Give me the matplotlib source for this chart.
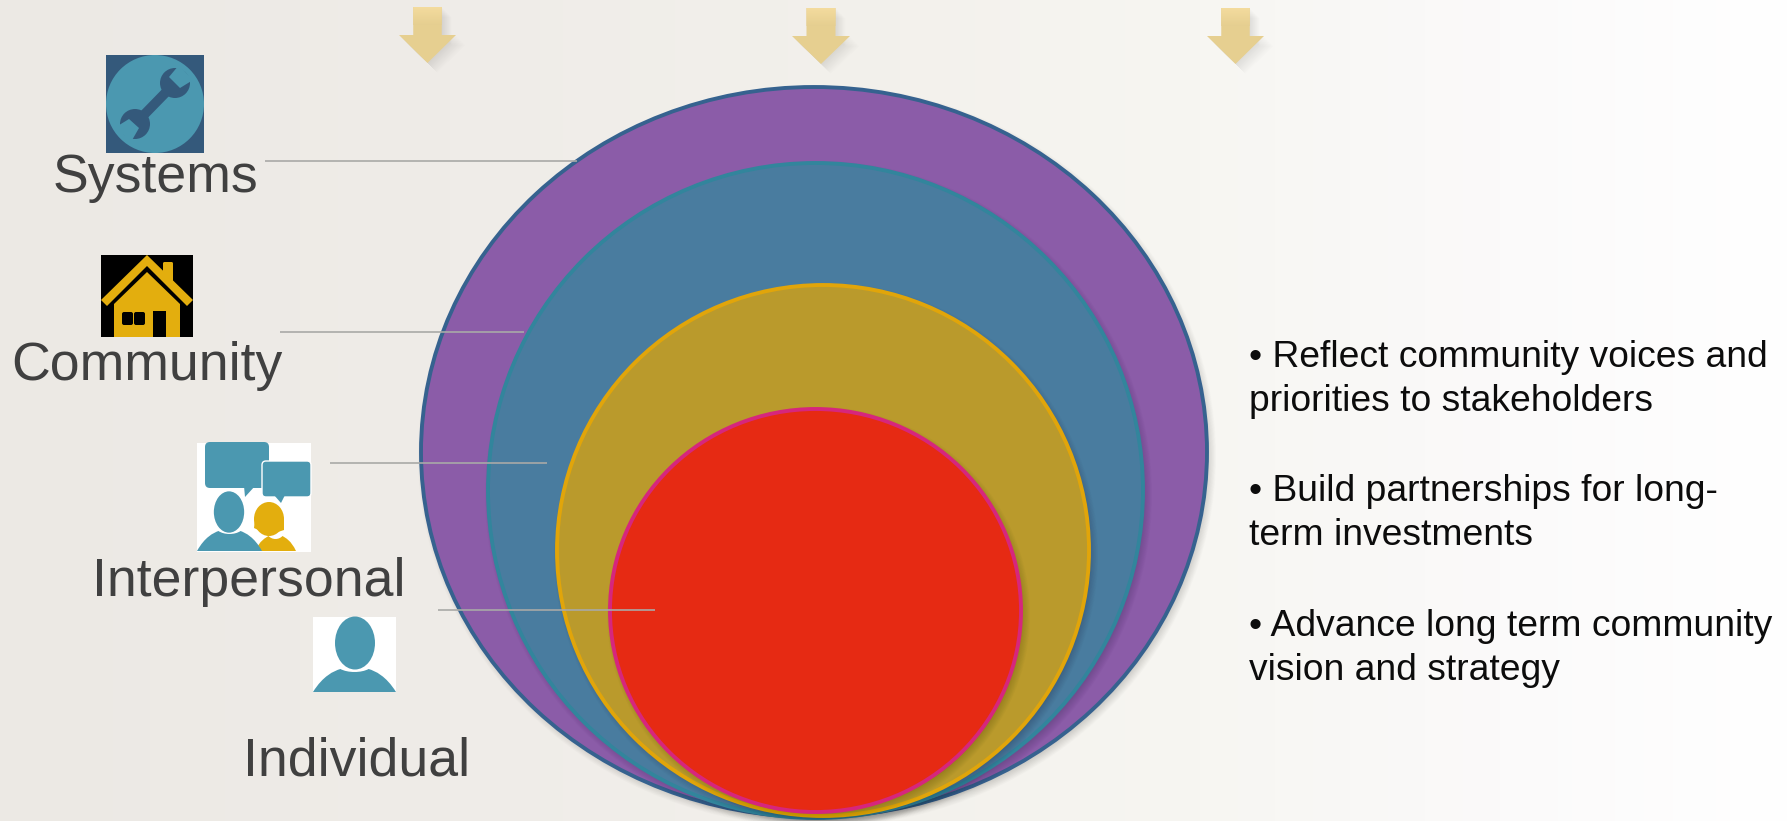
import numpy as np
import matplotlib
matplotlib.use("Agg")
import matplotlib.pyplot as plt
from matplotlib.patches import Ellipse, Polygon, Rectangle, FancyBboxPatch, PathPatch, Circle
from matplotlib.path import Path

W, H = 1787, 821

# rings, outermost first: left, right, top, bottom
ring_left = [421, 488, 557, 610]
ring_right = [1207, 1143, 1089, 1021]
ring_top = [87, 163, 285, 409]
ring_bottom = [817, 818, 816, 812]
ring_fill = ["#8b5ca8", "#497c9f", "#ba9a2c", "#e62a13"]
ring_edge = ["#36628f", "#32859c", "#e1a50a", "#d6267d"]

level_names = ["Systems", "Community", "Interpersonal", "Individual"]
level_x = [155, 147, 249, 357]
level_y = [192, 380, 596, 775]

leader_x0 = [265, 280, 330, 438]
leader_x1 = [577, 524, 547, 655]
leader_y = [161, 332, 463, 610]

arrow_x0 = [399, 792, 1207]
arrow_x1 = [456, 850, 1264]
arrow_top = [7, 8, 8]

bullet_lines = ["• Reflect community voices and", "priorities to stakeholders",
                "• Build partnerships for long-", "term investments",
                "• Advance long term community", "vision and strategy"]
bullet_y = [367, 411, 501, 545, 636, 680]

bg_stops = [0, 450, 900, 1200, 1500, 1787]
bg_r = [236, 239, 243, 247, 251, 255]
bg_g = [233, 236, 241, 246, 250, 255]
bg_b = [228, 232, 236, 242, 250, 255]

TEAL = "#4b98b0"
GOLD = "#e3ae0e"
NAVY = "#34597b"

plt.rcParams["font.family"] = ["Liberation Sans", "DejaVu Sans"]

fig = plt.figure(figsize=(W / 100, H / 100), dpi=100)
ax = fig.add_axes([0, 0, 1, 1])
ax.set_xlim(0, W)
ax.set_ylim(H, 0)
ax.axis("off")


def background():
    xs = np.arange(W)
    rgb = np.stack([np.interp(xs, bg_stops, c) for c in (bg_r, bg_g, bg_b)], axis=1) / 255
    ax.imshow(rgb[None, :, :], extent=[0, W, H, 0], aspect="auto", zorder=0, interpolation="bilinear")
    ax.set_xlim(0, W)
    ax.set_ylim(H, 0)


def soft_shadow(cx, cy, w, h, z):
    # stacked translucent ellipses give a blurred drop shadow
    for k in range(14):
        ax.add_patch(Ellipse((cx + 3, cy + 4), w - 6 + k * 1.4, h - 6 + k * 1.4, fc="black", ec="none",
                             alpha=0.010, zorder=z))


def draw_rings():
    for i in range(len(ring_fill)):
        cx = (ring_left[i] + ring_right[i]) / 2
        cy = (ring_top[i] + ring_bottom[i]) / 2
        w = ring_right[i] - ring_left[i]
        h = ring_bottom[i] - ring_top[i]
        z = 2 + i
        soft_shadow(cx, cy, w, h, z)
        ax.add_patch(Ellipse((cx, cy), w, h, fc=ring_fill[i], ec=ring_edge[i], lw=2.8, zorder=z + 0.5))


def draw_arrow(x0, x1, top):
    mid = (x0 + x1) / 2
    half = (x1 - x0) * 0.25
    shoulder, tip = top + 28, top + 56
    pts = [(mid - half, top), (mid + half, top), (mid + half, shoulder), (x1, shoulder),
           (mid, tip), (x0, shoulder), (mid - half, shoulder)]
    for k in range(12):
        shifted = [(x + 1 + k * 0.8, y + 1 + k * 0.8) for x, y in pts]
        ax.add_patch(Polygon(shifted, fc="black", ec="none", alpha=0.006, zorder=1))
    poly = Polygon(pts, fc="#e6cf90", ec="none", zorder=2)
    ax.add_patch(poly)
    shade = np.linspace(0, 1, 60)[:, None, None]
    grad = np.array([0.955, 0.86, 0.62]) * (1 - shade) + np.array([0.90, 0.81, 0.565]) * shade
    im = ax.imshow(np.clip(grad, 0, 1), extent=[x0, x1, top + 18, top], aspect="auto", zorder=2.1)
    im.set_clip_path(poly)
    ax.set_xlim(0, W)
    ax.set_ylim(H, 0)


def shoulders(x0, x1, ytop, ybot, color, z):
    w = x1 - x0
    mid = (x0 + x1) / 2
    verts = [(x0, ybot), (x0 + w * 0.12, ytop + (ybot - ytop) * 0.3), (x0 + w * 0.25, ytop + 2), (mid - w * 0.17, ytop),
             (mid - w * 0.08, ytop + 4), (mid + w * 0.08, ytop + 4), (mid + w * 0.17, ytop),
             (x1 - w * 0.25, ytop + 2), (x1 - w * 0.12, ytop + (ybot - ytop) * 0.3), (x1, ybot), (x0, ybot)]
    codes = [Path.MOVETO, Path.CURVE4, Path.CURVE4, Path.CURVE4, Path.CURVE4, Path.CURVE4, Path.CURVE4,
             Path.CURVE4, Path.CURVE4, Path.CURVE4, Path.CLOSEPOLY]
    ax.add_patch(PathPatch(Path(verts, codes), fc=color, ec="none", zorder=z))


def rounded(x0, y0, x1, y1, r, color, z, ec="none"):
    ax.add_patch(FancyBboxPatch((x0 + r, y0 + r), x1 - x0 - 2 * r, y1 - y0 - 2 * r,
                                boxstyle=f"round,pad={r},rounding_size={r}",
                                fc=color, ec=ec, lw=1, zorder=z))


def wrench_icon():
    ax.add_patch(Rectangle((106, 55), 98, 98, fc=NAVY, ec="none", zorder=6))
    ax.add_patch(Circle((155, 104), 49, fc=TEAL, ec="none", zorder=6.1))
    ax.plot([135, 175], [124, 83], color=NAVY, lw=7, solid_capstyle="butt", zorder=6.2)
    ax.add_patch(Circle((175, 83), 15, fc=NAVY, ec="none", zorder=6.2))
    ax.add_patch(Circle((135, 124), 15, fc=NAVY, ec="none", zorder=6.2))
    ax.add_patch(Polygon([(179, 65), (193, 80), (180, 88), (169, 77)], fc=TEAL, ec="none", zorder=6.3))
    ax.add_patch(Polygon([(116, 127), (131, 142), (139, 128), (129, 119)], fc=TEAL, ec="none", zorder=6.3))


def house_icon():
    ax.add_patch(Rectangle((101, 255), 92, 82, fc="black", ec="none", zorder=6))
    ax.add_patch(Polygon([(147, 272), (180, 304), (180, 337), (114, 337), (114, 304)], fc=GOLD, ec="none", zorder=6.1))
    rounded(163, 262, 173, 282, 1.5, GOLD, 6.15)
    ax.add_patch(Polygon([(147, 255), (193, 300), (187, 306), (147, 266), (107, 306), (101, 300)], fc=GOLD, ec="black",
                         lw=0, zorder=6.2))
    rounded(122, 312, 133, 325, 2, "black", 6.3)
    rounded(134, 312, 145, 325, 2, "black", 6.3)
    ax.add_patch(Rectangle((153, 311), 13, 26, fc="black", ec="none", zorder=6.3))


def talk_icon():
    ax.add_patch(Rectangle((197, 443), 114, 109, fc="white", ec="none", zorder=6))
    rounded(205, 442, 269, 488, 5, TEAL, 6.1)
    ax.add_patch(Polygon([(244, 486), (255, 486), (245, 497)], fc=TEAL, ec="none", zorder=6.1))
    rounded(262, 461, 311, 497, 4, TEAL, 6.2, ec="white")
    ax.add_patch(Polygon([(274, 495), (285, 495), (281, 503)], fc=TEAL, ec="none", zorder=6.2))
    ax.add_patch(Ellipse((269, 519), 30, 34, fc=GOLD, ec="none", zorder=6.3))
    ax.add_patch(Polygon([(255, 519), (284, 519), (284, 530), (269, 535), (254, 528)], fc=GOLD, ec="none", zorder=6.3))
    shoulders(255, 296, 536, 551, GOLD, 6.3)
    ax.add_patch(Ellipse((229, 512), 32, 43, fc=TEAL, ec="white", lw=1.2, zorder=6.4))
    shoulders(197, 262, 531, 551, TEAL, 6.4)


def person_icon():
    ax.add_patch(Rectangle((313, 617), 83, 75, fc="white", ec="none", zorder=6))
    ax.add_patch(Ellipse((355, 643), 40, 53, fc=TEAL, ec="none", zorder=6.1))
    shoulders(313, 396, 669, 692, TEAL, 6.2)


background()
draw_rings()
for a0, a1, t in zip(arrow_x0, arrow_x1, arrow_top):
    draw_arrow(a0, a1, t)

for x0, x1, y in zip(leader_x0, leader_x1, leader_y):
    ax.plot([x0, x1], [y, y], color="#a9a9a7", lw=1.2, zorder=8, solid_capstyle="butt")

wrench_icon()
house_icon()
talk_icon()
person_icon()

for name, x, y in zip(level_names, level_x, level_y):
    ax.text(x, y, name, fontsize=38.6, color="#404040", ha="center", va="baseline", zorder=9)

for line, y in zip(bullet_lines, bullet_y):
    ax.text(1249, y, line, fontsize=26.8, color="#0c0c0c", ha="left", va="baseline", zorder=9)

fig.savefig("out.png", dpi=100)
